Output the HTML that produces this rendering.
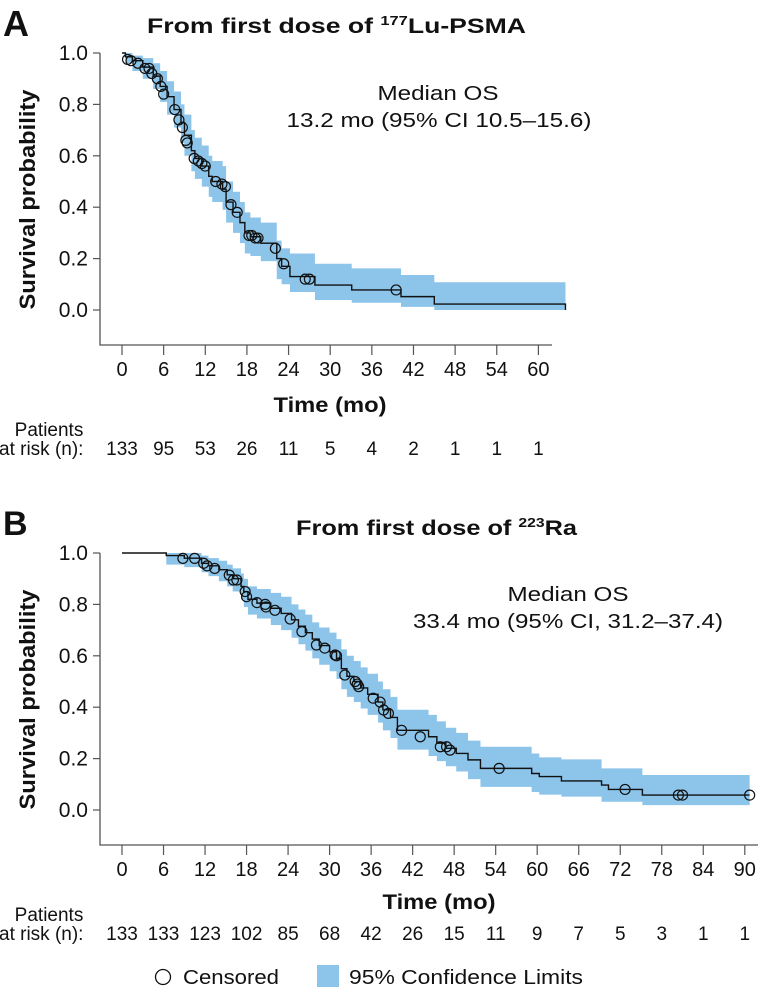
<!DOCTYPE html>
<html><head><meta charset="utf-8"><style>
body{margin:0;background:#fff}
svg text{font-family:"Liberation Sans",Arial,sans-serif;fill:#111}
.b{font-weight:bold}
</style></head><body>
<svg id="fig" width="760" height="988" viewBox="0 0 760 988" xmlns="http://www.w3.org/2000/svg">
<text x="3" y="36" class="b" font-size="36">A</text>
<text x="147" y="33" class="b" font-size="21" textLength="379" lengthAdjust="spacingAndGlyphs">From first dose of <tspan font-size="13" dy="-8">177</tspan><tspan dy="8">Lu-PSMA</tspan></text>
<text x="438" y="100" font-size="20" text-anchor="middle" textLength="121" lengthAdjust="spacingAndGlyphs">Median OS</text>
<text x="439" y="127" font-size="20" text-anchor="middle" textLength="305" lengthAdjust="spacingAndGlyphs">13.2 mo (95% CI 10.5–15.6)</text>
<text x="3" y="535" class="b" font-size="34">B</text>
<text x="296" y="535" class="b" font-size="21" textLength="281" lengthAdjust="spacingAndGlyphs">From first dose of <tspan font-size="13" dy="-8">223</tspan><tspan dy="8">Ra</tspan></text>
<text x="568" y="601" font-size="20" text-anchor="middle" textLength="121" lengthAdjust="spacingAndGlyphs">Median OS</text>
<text x="568" y="628" font-size="20" text-anchor="middle" textLength="310" lengthAdjust="spacingAndGlyphs">33.4 mo (95% CI, 31.2–37.4)</text>
<g>
<circle cx="163" cy="977" r="7.5" fill="none" stroke="#111" stroke-width="1.3"/>
<text x="183" y="984" font-size="20" textLength="96" lengthAdjust="spacingAndGlyphs">Censored</text>
<rect x="317" y="965" width="22" height="22" fill="#8cc4ea"/>
<text x="349" y="984" font-size="20" textLength="234" lengthAdjust="spacingAndGlyphs">95% Confidence Limits</text>
</g>
</svg>
<script>
// Panel A data
const aTimes=[0,0.5,1.5,3,4.5,5.5,6.5,7.5,8.5,9,10,10.5,11.5,12.5,13,14.5,15,16,17,17.7,18.5,20,22.3,23,24.2,27.8,33.1,40.2,45];
const aSurv=[1,0.985,0.97,0.945,0.91,0.87,0.83,0.78,0.73,0.68,0.62,0.59,0.56,0.52,0.50,0.47,0.42,0.38,0.34,0.30,0.285,0.26,0.20,0.17,0.13,0.097,0.078,0.052,0.023];
const aLower=[1,0.96,0.93,0.90,0.86,0.81,0.76,0.71,0.65,0.60,0.54,0.51,0.48,0.44,0.42,0.39,0.34,0.30,0.26,0.22,0.21,0.19,0.12,0.10,0.07,0.039,0.028,0.012,0.0];
const aUpper=[1,1,0.99,0.98,0.96,0.93,0.89,0.85,0.80,0.76,0.70,0.67,0.64,0.60,0.58,0.56,0.50,0.46,0.42,0.38,0.36,0.34,0.27,0.24,0.22,0.18,0.162,0.136,0.108];
const aEnd=63.9;
const aCensT=[0.8,1.3,2.3,3.3,3.9,4.3,5.1,5.6,6,7.6,8.2,8.7,9.2,9.4,10.4,11,11.5,12,13.5,14.4,14.9,15.7,16.6,18.3,18.7,19.2,19.6,22.1,23.3,26.4,27.0,39.5];
const aCensS=[0.975,0.97,0.96,0.94,0.94,0.92,0.90,0.87,0.84,0.78,0.74,0.71,0.66,0.65,0.59,0.58,0.57,0.56,0.50,0.49,0.48,0.41,0.38,0.29,0.29,0.28,0.28,0.24,0.18,0.12,0.12,0.078];
const aTicks=[0,6,12,18,24,30,36,42,48,54,60];
const aRisk=["133","95","53","26","11","5","4","2","1","1","1"];
// Panel B data
const bTimes=[0,6.4,9,11.5,12.5,14,15.2,16,17.2,17.6,18.2,19.5,21.5,23,24.5,25.5,26.5,27.5,28.5,30,31,31.7,32.5,33.5,34.5,35.5,37,37.7,38.8,39.8,44.3,45.5,46.8,48.3,50,51.8,59.2,60.3,63.5,69.3,70.3,75.2];
const bSurv=[1,0.99,0.98,0.96,0.95,0.935,0.915,0.90,0.87,0.85,0.82,0.805,0.785,0.765,0.74,0.715,0.69,0.665,0.64,0.615,0.59,0.55,0.52,0.50,0.475,0.45,0.42,0.39,0.36,0.31,0.285,0.26,0.24,0.22,0.195,0.162,0.142,0.13,0.113,0.097,0.08,0.058];
const bLower=[1,0.955,0.945,0.925,0.91,0.89,0.87,0.85,0.82,0.79,0.76,0.745,0.72,0.70,0.67,0.645,0.62,0.59,0.565,0.54,0.51,0.47,0.44,0.42,0.395,0.37,0.34,0.31,0.28,0.235,0.21,0.19,0.17,0.15,0.12,0.09,0.07,0.06,0.052,0.032,0.032,0.019];
const bUpper=[1,1,1,0.99,0.98,0.97,0.955,0.94,0.92,0.90,0.87,0.86,0.845,0.83,0.80,0.78,0.76,0.73,0.71,0.69,0.665,0.625,0.60,0.58,0.555,0.53,0.50,0.47,0.44,0.39,0.37,0.345,0.32,0.30,0.27,0.246,0.22,0.205,0.197,0.162,0.162,0.136];
const bEnd=90.7;
const bCensT=[8.8,10.5,11.8,12.3,13.4,15.5,16.1,16.6,17.8,18.0,19.5,20.7,20.8,22.1,24.3,26,28.1,29.3,30.8,31.0,32.2,33.7,34.0,34.2,36.3,37.3,37.8,38.5,40.4,43.1,46,46.9,47.4,54.5,72.7,80.4,81.0,90.7];
const bCensS=[0.979,0.979,0.96,0.95,0.94,0.914,0.895,0.895,0.85,0.83,0.807,0.80,0.79,0.777,0.743,0.694,0.642,0.63,0.603,0.60,0.525,0.50,0.49,0.48,0.435,0.42,0.389,0.376,0.31,0.285,0.246,0.246,0.233,0.162,0.08,0.058,0.058,0.058];
const bTicks=[0,6,12,18,24,30,36,42,48,54,60,66,72,78,84,90];
const bRisk=["133","133","123","102","85","68","42","26","15","11","9","7","5","3","1","1"];
const yTicks=[0,0.2,0.4,0.6,0.8,1.0];

const NS='http://www.w3.org/2000/svg';
const svg=document.getElementById('fig');
function mk(tag,attrs,parent){const e=document.createElementNS(NS,tag);for(const k in attrs)e.setAttribute(k,attrs[k]);(parent||svg).appendChild(e);return e;}

function panel(p){
  const xs=t=>122+t*p.pxPerMo;
  const ys=s=>p.y0-s*257;
  const g=mk('g',{});
  
  
  let up='',lo='';
  for(let i=0;i<p.t.length;i++){
    const x1=xs(p.t[i]),x2=xs(i+1<p.t.length?p.t[i+1]:p.end);
    up+=(i?'L':'M')+x1+' '+ys(p.hi[i])+'L'+x2+' '+ys(p.hi[i]);
  }
  for(let i=p.t.length-1;i>=0;i--){
    const x1=xs(p.t[i]),x2=xs(i+1<p.t.length?p.t[i+1]:p.end);
    lo+='L'+x2+' '+ys(p.lo[i])+'L'+x1+' '+ys(p.lo[i]);
  }
  const band=mk('path',{d:up+lo+'Z',fill:'#8cc4ea'},g);
  
  
  let d='M'+xs(0)+' '+ys(p.s[0]);
  for(let i=1;i<p.t.length;i++){d+='H'+xs(p.t[i])+'V'+ys(p.s[i]);}
  d+='H'+xs(p.end);
  if(p.dropEnd)d+='V'+ys(0);
  const line=mk('path',{d:d,fill:'none',stroke:'#111','stroke-width':1.4},g);
  
  
  for(let i=0;i<p.ct.length;i++){
    const c=mk('circle',{cx:xs(p.ct[i]),cy:ys(p.cs[i]),r:5,fill:'none',stroke:'#111','stroke-width':1.2},g);
    
    
  }
  const ax=mk('path',{d:'M100 '+ys(1)+'V'+p.axY+'H'+p.axRight,fill:'none',stroke:'#555','stroke-width':1.3},g);
  
  
  for(const v of yTicks){
    mk('line',{x1:93,x2:100,y1:ys(v),y2:ys(v),stroke:'#555','stroke-width':1.2},g);
    const tx=mk('text',{x:88,y:ys(v)+7,'font-size':21,'text-anchor':'end'},g);
    tx.textContent=v.toFixed(1);
    
    
  }
  p.ticks.forEach((v,i)=>{
    mk('line',{x1:xs(v),x2:xs(v),y1:p.axY,y2:p.axY+10,stroke:'#555','stroke-width':1.2},g);
    const tx=mk('text',{x:xs(v),y:p.axY+31,'font-size':20,'text-anchor':'middle'},g);
    tx.textContent=v;
    
    
    const r=mk('text',{x:xs(v),y:p.riskY,'font-size':19,'text-anchor':'middle'},g);
    r.textContent=p.risk[i];
    
    
  });
  const yl=mk('text',{x:0,y:0,'font-size':22,'font-weight':'bold','text-anchor':'middle',textLength:220,lengthAdjust:'spacingAndGlyphs',transform:'translate(35,'+(ys(0.5)+18)+') rotate(-90)'},g);
  yl.textContent='Survival probability';
  
  
  const xl=mk('text',{x:p.xlX,y:p.axY+p.xlOff,'font-size':21,'font-weight':'bold','text-anchor':'middle',textLength:113,lengthAdjust:'spacingAndGlyphs'},g);
  xl.textContent='Time (mo)';
  
  
  const r1=mk('text',{x:49,y:p.riskY-19,'font-size':19,'text-anchor':'middle'},g);
  r1.textContent='Patients';
  
  
  const r2=mk('text',{x:-1,y:p.riskY,'font-size':19},g);
  r2.textContent='at risk (n):';
  
  
}
panel({name:'panel-a',pxPerMo:6.94,y0:310,axY:345,axRight:552,t:aTimes,s:aSurv,lo:aLower,hi:aUpper,end:aEnd,dropEnd:true,ct:aCensT,cs:aCensS,ticks:aTicks,risk:aRisk,riskY:455,xlX:330,xlOff:67});
panel({name:'panel-b',pxPerMo:6.92,y0:810,axY:845,axRight:758,t:bTimes,s:bSurv,lo:bLower,hi:bUpper,end:bEnd,dropEnd:false,ct:bCensT,cs:bCensS,ticks:bTicks,risk:bRisk,riskY:940,xlX:439,xlOff:64});
</script>
</body></html>
